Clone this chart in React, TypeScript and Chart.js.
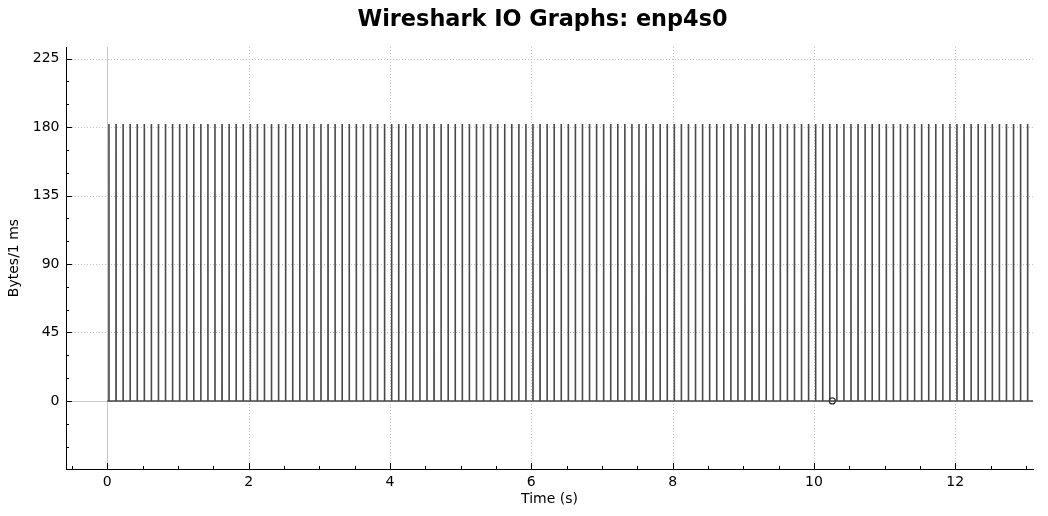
import React, { useEffect, useRef } from 'react';
import { Chart, registerables } from 'chart.js';

Chart.register(...registerables);

const FONT = "'DejaVu Sans', 'Liberation Sans', sans-serif";

const chartTitle = 'Wireshark IO Graphs: enp4s0';
const xTitle = 'Time (s)';
const yTitle = 'Bytes/1 ms';

const xMin = -0.584;
const xMax = 13.1;
const yMin = -44.7;
const yMax = 232.6;

const xMajorTicks = [0, 2, 4, 6, 8, 10, 12];
const xMinorTicks = [-0.5, 0.5, 1, 1.5, 2.5, 3, 3.5, 4.5, 5, 5.5, 6.5, 7, 7.5, 8.5, 9, 9.5, 10.5, 11, 11.5, 12.5, 13];
const yMajorTicks = [0, 45, 90, 135, 180, 225];
const yMinorTicks = [-30, -15, 15, 30, 60, 75, 105, 120, 150, 165, 195, 210];

const startTime = 0;
const endTime = 13.1;
const binWidth = 0.001;

const spikeTimes = [
  0.024, 0.124, 0.224, 0.324, 0.424, 0.524, 0.624, 0.724, 0.824, 0.924,
  1.024, 1.124, 1.224, 1.324, 1.424, 1.524, 1.624, 1.724, 1.824, 1.924,
  2.024, 2.124, 2.224, 2.324, 2.424, 2.524, 2.624, 2.724, 2.824, 2.924,
  3.024, 3.124, 3.224, 3.324, 3.424, 3.524, 3.624, 3.724, 3.824, 3.924,
  4.024, 4.124, 4.224, 4.324, 4.424, 4.524, 4.624, 4.724, 4.824, 4.924,
  5.024, 5.124, 5.224, 5.324, 5.424, 5.524, 5.624, 5.724, 5.824, 5.924,
  6.024, 6.124, 6.224, 6.324, 6.424, 6.524, 6.624, 6.724, 6.824, 6.924,
  7.024, 7.124, 7.224, 7.324, 7.424, 7.524, 7.624, 7.724, 7.824, 7.924,
  8.024, 8.124, 8.224, 8.324, 8.424, 8.524, 8.624, 8.724, 8.824, 8.924,
  9.024, 9.124, 9.224, 9.324, 9.424, 9.524, 9.624, 9.724, 9.824, 9.924,
  10.024, 10.124, 10.224, 10.324, 10.424, 10.524, 10.624, 10.724, 10.824, 10.924,
  11.024, 11.124, 11.224, 11.324, 11.424, 11.524, 11.624, 11.724, 11.824, 11.924,
  12.024, 12.124, 12.224, 12.324, 12.424, 12.524, 12.624, 12.724, 12.824, 12.924,
  13.024,
];

const spikeBytes = [
  182, 182, 182, 182, 182, 182, 182, 182, 182, 182,
  182, 182, 182, 182, 182, 182, 182, 182, 182, 182,
  182, 182, 182, 182, 182, 182, 182, 182, 182, 182,
  182, 182, 182, 182, 182, 182, 182, 182, 182, 182,
  182, 182, 182, 182, 182, 182, 182, 182, 182, 182,
  182, 182, 182, 182, 182, 182, 182, 182, 182, 182,
  182, 182, 182, 182, 182, 182, 182, 182, 182, 182,
  182, 182, 182, 182, 182, 182, 182, 182, 182, 182,
  182, 182, 182, 182, 182, 182, 182, 182, 182, 182,
  182, 182, 182, 182, 182, 182, 182, 182, 182, 182,
  182, 182, 182, 182, 182, 182, 182, 182, 182, 182,
  182, 182, 182, 182, 182, 182, 182, 182, 182, 182,
  182, 182, 182, 182, 182, 182, 182, 182, 182, 182,
  182,
];

const markerTimes = [10.26];
const markerValues = [0];

export default function App() {
  const ref = useRef<HTMLCanvasElement>(null);

  useEffect(() => {
    const canvas = ref.current;
    if (!canvas) return;

    const series: { x: number; y: number }[] = [{ x: startTime, y: 0 }];
    spikeTimes.forEach((t, i) => {
      series.push({ x: t - binWidth, y: 0 }, { x: t, y: spikeBytes[i] }, { x: t + binWidth, y: 0 });
    });
    series.push({ x: endTime, y: 0 });

    const markers = markerTimes.map((t, i) => ({ x: t, y: markerValues[i] }));

    const decor = {
      id: 'decor',
      beforeDatasetsDraw(chart: any) {
        const { ctx, chartArea: a, scales } = chart;
        const xs = scales.x;
        const ys = scales.y;
        ctx.save();
        ctx.strokeStyle = '#c4c4c4';
        ctx.lineWidth = 1;
        ctx.setLineDash([1, 2]);
        xMajorTicks.forEach((v) => {
          if (v === 0) return;
          const px = Math.round(xs.getPixelForValue(v)) + 0.5;
          ctx.beginPath();
          ctx.moveTo(px, a.top);
          ctx.lineTo(px, a.bottom);
          ctx.stroke();
        });
        yMajorTicks.forEach((v) => {
          if (v === 0) return;
          const py = Math.round(ys.getPixelForValue(v)) + 0.5;
          ctx.beginPath();
          ctx.moveTo(a.left, py);
          ctx.lineTo(a.right, py);
          ctx.stroke();
        });
        ctx.setLineDash([]);
        ctx.strokeStyle = '#c8c8c8';
        const zx = Math.round(xs.getPixelForValue(0)) + 0.5;
        ctx.beginPath();
        ctx.moveTo(zx, a.top);
        ctx.lineTo(zx, a.bottom);
        ctx.stroke();
        const zy = Math.round(ys.getPixelForValue(0)) + 0.5;
        ctx.beginPath();
        ctx.moveTo(a.left, zy);
        ctx.lineTo(a.right, zy);
        ctx.stroke();
        ctx.restore();
      },
      afterDraw(chart: any) {
        const { ctx, chartArea: a, scales } = chart;
        const xs = scales.x;
        const ys = scales.y;
        ctx.save();
        ctx.strokeStyle = '#000';
        ctx.lineWidth = 1;
        const bx = a.bottom;
        const lx = a.left;
        const drawX = (v: number, len: number) => {
          const px = Math.round(xs.getPixelForValue(v)) + 0.5;
          ctx.beginPath();
          ctx.moveTo(px, bx);
          ctx.lineTo(px, bx - len);
          ctx.stroke();
        };
        const drawY = (v: number, len: number) => {
          const py = Math.round(ys.getPixelForValue(v)) + 0.5;
          ctx.beginPath();
          ctx.moveTo(lx, py);
          ctx.lineTo(lx + len, py);
          ctx.stroke();
        };
        xMajorTicks.forEach((v) => drawX(v, 6));
        xMinorTicks.forEach((v) => drawX(v, 3));
        yMajorTicks.forEach((v) => drawY(v, 6));
        yMinorTicks.forEach((v) => drawY(v, 3));
        ctx.fillStyle = '#000';
        ctx.font = `bold 22.4px ${FONT}`;
        ctx.textAlign = 'center';
        ctx.textBaseline = 'alphabetic';
        ctx.fillText(chartTitle, 542.5, 25.5);
        ctx.restore();
      },
    };

    const chart = new Chart(canvas, {
      type: 'scatter',
      data: {
        datasets: [
          {
            data: markers,
            showLine: false,
            pointRadius: 3,
            pointBorderWidth: 1.2,
            pointBorderColor: '#333333',
            pointBackgroundColor: 'rgba(0,0,0,0)',
            order: 0,
          } as any,
          {
            data: series,
            showLine: true,
            borderColor: '#4a4a4a',
            borderWidth: 1.6,
            borderJoinStyle: 'bevel',
            pointRadius: 0,
            tension: 0,
            order: 1,
          } as any,
        ],
      },
      options: {
        animation: false,
        responsive: false,
        maintainAspectRatio: false,
        events: [],
        layout: { padding: { top: 47, right: 15, left: 0, bottom: 0 } },
        plugins: {
          legend: { display: false },
          tooltip: { enabled: false },
          title: { display: false },
        },
        scales: {
          x: {
            type: 'linear',
            min: xMin,
            max: xMax,
            afterFit: (s: any) => {
              s.height = 47;
            },
            afterBuildTicks: (s: any) => {
              s.ticks = xMajorTicks.map((v) => ({ value: v }));
            },
            grid: { display: false, drawTicks: false },
            border: { display: true, color: '#000', width: 1 },
            ticks: {
              padding: 5,
              color: '#000',
              font: { family: FONT, size: 14 },
              maxRotation: 0,
              autoSkip: false,
              callback: (v: any) => String(v),
            },
            title: {
              display: true,
              text: xTitle,
              color: '#000',
              font: { family: FONT, size: 14 },
              padding: { top: 0, bottom: 8.1 },
            },
          },
          y: {
            type: 'linear',
            min: yMin,
            max: yMax,
            afterFit: (s: any) => {
              s.width = 66;
            },
            afterBuildTicks: (s: any) => {
              s.ticks = yMajorTicks.map((v) => ({ value: v }));
            },
            grid: { display: false, drawTicks: false },
            border: { display: true, color: '#000', width: 1 },
            ticks: {
              padding: 6.5,
              color: '#000',
              font: { family: FONT, size: 14 },
              autoSkip: false,
              callback: (v: any) => String(v),
            },
            title: {
              display: true,
              text: yTitle,
              color: '#000',
              font: { family: FONT, size: 14 },
              padding: { top: 6.1, bottom: 0 },
            },
          },
        },
      } as any,
      plugins: [decor],
    });

    return () => chart.destroy();
  }, []);

  return (
    <div style={{ position: 'fixed', left: 0, top: 0, width: 1048, height: 516, background: '#fff' }}>
      <canvas ref={ref} width={1048} height={516} style={{ width: 1048, height: 516, display: 'block' }} />
    </div>
  );
}
